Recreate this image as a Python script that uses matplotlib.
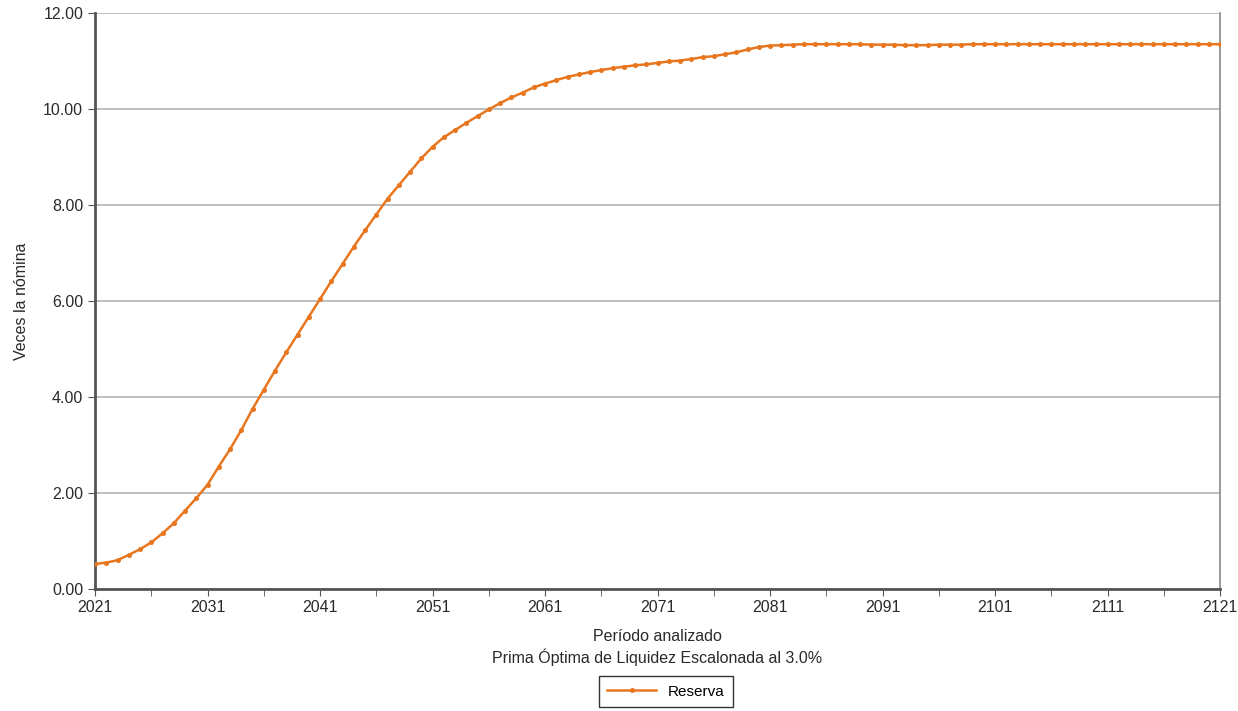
import matplotlib
matplotlib.use("Agg")
import matplotlib.pyplot as plt
from matplotlib.ticker import FixedLocator

plt.rcParams['font.family'] = ['Liberation Sans', 'DejaVu Sans']

# datos
years = list(range(2021, 2122))
reserva = [
    0.52, 0.55, 0.60, 0.71, 0.83, 0.97, 1.16, 1.37, 1.63, 1.89,
    2.17, 2.55, 2.91, 3.31, 3.75, 4.15, 4.55, 4.93, 5.30, 5.67,
    6.04, 6.41, 6.77, 7.13, 7.47, 7.80, 8.13, 8.41, 8.69, 8.97,
    9.21, 9.41, 9.56, 9.71, 9.85, 9.99, 10.12, 10.24, 10.34, 10.45,
    10.53, 10.60, 10.67, 10.72, 10.77, 10.81, 10.85, 10.88, 10.91, 10.93,
    10.96, 10.99, 11.01, 11.04, 11.08, 11.10, 11.14, 11.18, 11.24, 11.29,
    11.32, 11.33, 11.34, 11.35, 11.35, 11.35, 11.35, 11.35, 11.35, 11.34,
    11.34, 11.34, 11.33, 11.33, 11.33, 11.34, 11.34, 11.34, 11.35, 11.35,
    11.35, 11.35, 11.35, 11.35, 11.35, 11.35, 11.35, 11.35, 11.35, 11.35,
    11.35, 11.35, 11.35, 11.35, 11.35, 11.35, 11.35, 11.35, 11.35, 11.35,
    11.35,
]
xtick_years = list(range(2021, 2122, 10))
ytick_vals = [0, 2, 4, 6, 8, 10, 12]

naranja = '#E8761E'

fig = plt.figure(figsize=(12.38, 7.11), dpi=100)
ax = fig.add_axes([95 / 1238, 1 - 589 / 711, (1220 - 95) / 1238, (589 - 13) / 711])

ax.plot(years, reserva, color=naranja, linewidth=1.8, marker='o', markersize=2.6,
        label='Reserva', zorder=3)

ax.set_xlim(2021, 2121)
ax.set_ylim(0, 12)
ax.set_xticks(xtick_years)
ax.xaxis.set_minor_locator(FixedLocator(list(range(2026, 2121, 10))))
ax.set_yticks(ytick_vals)
ax.set_yticklabels([f'{v:.2f}' for v in ytick_vals])

ax.grid(axis='y', color='#b4b4b4', linewidth=1.2)
ax.set_axisbelow(True)

for s in ['left', 'bottom']:
    ax.spines[s].set_color('#555555')
    ax.spines[s].set_linewidth(2)
ax.spines['right'].set_color('#888888')
ax.spines['right'].set_linewidth(1.2)
ax.spines['top'].set_visible(False)

ax.tick_params(axis='both', which='both', direction='out', length=5,
               color='#555555', labelsize=11.5, labelcolor='#2a2a2a')
ax.tick_params(axis='x', pad=3)

ax.set_ylabel('Veces la nómina', fontsize=11.5, color='#2a2a2a', labelpad=10)
ax.set_xlabel('Período analizado\nPrima Óptima de Liquidez Escalonada al 3.0%',
              fontsize=11.5, color='#2a2a2a', linespacing=1.3, labelpad=10)

fig.legend(loc='lower center', bbox_to_anchor=(666 / 1238, 1 / 711),
           fancybox=False, edgecolor='#333333', framealpha=1, fontsize=11,
           handlelength=3.2, borderpad=0.55, borderaxespad=0.2)

fig.savefig('out.png', dpi=100)
